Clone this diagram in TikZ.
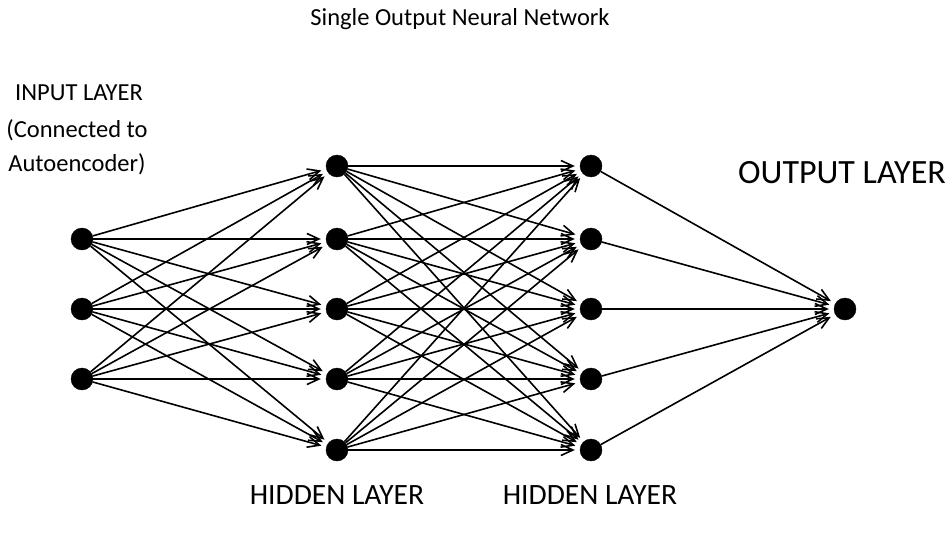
\documentclass[tikz,border=0pt]{standalone}
\usepackage{fontspec}
\setmainfont{Carlito}
\usetikzlibrary{arrows.meta}
\begin{document}
\begin{tikzpicture}[x=1pt,y=-1pt,
  neuron/.style={circle,fill=black,draw=black,minimum size=22pt,inner sep=0pt},
  conn/.style={line width=1.6pt,-{Straight Barb[length=12pt,width=11pt,line width=1.6pt]},shorten >=5pt},
  lbl/.style={font=\fontsize{24.5}{28}\selectfont,inner sep=0pt}]
\useasboundingbox (0,0) rectangle (950,535);
\node[font=\fontsize{24.5}{28}\selectfont,inner sep=0pt] (title) at (460,19) {Single Output Neural Network};
\node[lbl] (t1) at (79,93) {INPUT LAYER};
\node[lbl] (t2) at (77,130) {(Connected to};
\node[lbl] (t3) at (77,164) {Autoencoder)};
\node[font=\fontsize{34}{38}\selectfont,inner sep=0pt] (tout) at (842,173) {OUTPUT LAYER};
\node[font=\fontsize{29.5}{33}\selectfont,inner sep=0pt] (th1) at (337,495) {HIDDEN LAYER};
\node[font=\fontsize{29.5}{33}\selectfont,inner sep=0pt] (th2) at (590,495) {HIDDEN LAYER};
\foreach \i/\y in {1/239,2/309,3/379} \node[neuron] (i\i) at (82,\y) {};
\foreach \i/\y in {1/166,2/239,3/309,4/379,5/450} {
  \node[neuron] (h\i) at (337,\y) {};
  \node[neuron] (g\i) at (591,\y) {};
}
\node[neuron] (o) at (845,309) {};
\foreach \a in {1,2,3} \foreach \b in {1,...,5} \draw[conn] (i\a) -- (h\b);
\foreach \a in {1,...,5} \foreach \b in {1,...,5} \draw[conn] (h\a) -- (g\b);
\foreach \a in {1,...,5} \draw[conn] (g\a) -- (o);
\end{tikzpicture}
\end{document}
